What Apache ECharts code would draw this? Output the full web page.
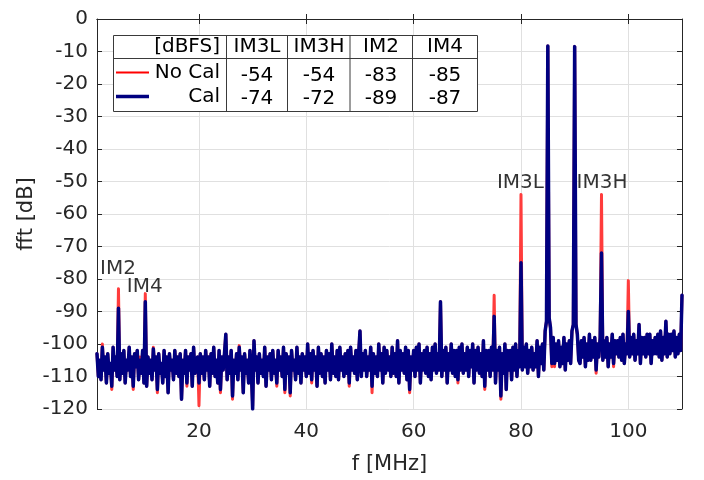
<!DOCTYPE html>
<html><head><meta charset="utf-8">
<script src="https://cdn.jsdelivr.net/npm/echarts@6/dist/echarts.min.js"></script>
<style>html,body{margin:0;padding:0;background:#fff}#c{width:704px;height:480px}</style>
</head><body><div id="c"></div>
<script>
// frequency grid: first sample and spacing (MHz)
const fStart = 1, fStep = 0.25;

// "Cal" spectrum (dB), one value per 0.25 MHz from 1 to 110 MHz (20 values = 5 MHz per row)
const calDb = [
  -103,-110,-105,-111,-101,-108,-104,-112,-103,-109,-106,-113,-101,-108,-104,-110,-89,-111,-103,-109,
  -102,-112,-105,-108,-101,-110,-104,-113,-103,-107,-102,-111,-105,-109,-102,-112,-87,-113,-104,-109,
  -105,-111,-101.5,-108,-104,-114,-103,-109,-106,-112,-102,-110,-104,-115,-103,-108,-105,-111,-102,-109,
  -104,-110,-103,-117,-105,-109,-102,-112,-104,-108,-103,-113,-101,-109,-105,-104,-112,-103,-109,-104,
  -111,-102,-108,-104,-113,-103,-109,-101,-110,-105,-112,-102,-114,-104,-108,-103,-97,-111,-104,-109,
  -102,-116,-105,-109,-103,-111,-101,-108,-104,-115,-103,-109,-105,-112,-102,-108,-120,-99,-108,-104,
  -112,-103,-109,-105,-110,-101,-113,-104,-108,-103,-111,-102,-109,-105,-112,-102,-108,-104,-110,-101,
  -114,-103,-109,-104,-115,-102,-108,-105,-111,-101,-109,-104,-112,-103,-108,-104,-110,-100,-109,-103,
  -111,-102,-108,-104,-113,-101,-109,-103,-110,-104,-112,-102,-108,-103,-111,-100,-109,-104,-110,-102,
  -111,-101,-108,-104,-110,-103,-109,-102,-112,-101,-108,-104,-109,-102,-111,-103,-96,-110,-103,-108,
  -102,-110,-104,-108,-101,-113,-103,-109,-104,-110,-100,-108,-103,-112,-101,-109,-102,-108,-104,-110,
  -101,-109,-103,-110,-99,-112,-102,-108,-103,-109,-101,-111,-102,-114,-104,-108,-102,-110,-101,-108,
  -100,-112,-103,-108,-102,-109,-101,-110,-103,-111,-101,-108,-100,-109,-103,-108,-87,-110,-102,-108,
  -101,-112,-103,-108,-100,-109,-102,-110,-102,-111,-101,-108,-100,-109,-103,-108,-101,-110,-102,-107,
  -100,-112,-102,-108,-101,-109,-103,-110,-99,-113,-102,-108,-102,-110,-101,-108,-91.5,-112,-102,-108,
  -101,-116,-103,-109,-100,-114,-102,-108,-102,-111,-101,-108,-100,-110,-102,-107,-75,-108,-101,-107,
  -100,-109,-102,-107,-101,-108,-103,-107,-99,-110,-101,-106,-100,-108,-96,-93,-8.3,-92,-95,-106,
  -98,-106,-100,-105,-99,-107,-101,-106,-98,-108,-100,-105,-99,-106,-96,-94,-8.5,-94,-97,-105,
  -106,-99,-104,-98,-107,-100,-105,-97,-105,-99,-104,-98,-108,-100,-104,-98,-72,-105,-99,-104,
  -98,-107,-100,-104,-97,-106,-99,-103,-99,-104,-98,-105,-97,-106,-100,-103,-90,-104,-98,-103,
  -97,-105,-99,-103,-94,-106,-98,-103,-98,-104,-97,-103,-97,-106,-99,-103,-98,-103,-97,-104,
  -96,-105,-98,-103,-93,-104,-97,-103,-97,-102,-96,-104,-98,-103,-97,-102,-85
];

// "No Cal" spectrum (dB), same frequency grid
const noCalDb = [
  -103,-110,-105,-111,-100,-108,-104,-112,-103,-109,-106,-114,-101,-108,-104,-110,-83,-111,-103,-109,
  -102,-112,-105,-108,-101,-110,-104,-114,-103,-107,-102,-111,-104,-109,-102,-112,-84.5,-113,-104,-109,
  -105,-111,-101,-108,-104,-115,-103,-109,-106,-112,-102,-110,-104,-115,-103,-108,-105,-111,-102,-109,
  -104,-110,-103,-117,-105,-109,-102,-113,-104,-108,-103,-113,-101,-109,-105,-104,-119,-103,-109,-104,
  -111,-102,-108,-104,-113,-103,-109,-101,-110,-105,-112,-102,-115,-104,-108,-103,-97,-111,-104,-109,
  -102,-117,-105,-109,-103,-111,-100.5,-108,-104,-115,-103,-109,-105,-112,-102,-108,-119,-99,-108,-104,
  -112,-103,-109,-105,-110,-101,-113,-104,-108,-103,-111,-102,-109,-105,-113,-102,-108,-104,-110,-101,
  -115,-103,-109,-104,-116,-102,-108,-105,-111,-101,-109,-104,-112,-103,-108,-104,-110,-100,-109,-103,
  -112,-102,-108,-104,-113,-101,-109,-103,-110,-104,-112,-102,-108,-103,-111,-100,-109,-104,-110,-102,
  -111,-101,-108,-104,-110,-103,-109,-102,-113,-101,-108,-104,-109,-102,-111,-103,-96,-110,-103,-108,
  -102,-110,-104,-108,-101,-115,-103,-109,-104,-110,-100,-108,-103,-112,-101,-109,-102,-108,-104,-110,
  -101,-109,-103,-110,-99,-112,-102,-108,-103,-109,-101,-111,-102,-115,-104,-108,-102,-110,-101,-108,
  -100,-112,-103,-108,-102,-109,-101,-110,-103,-111,-101,-108,-100,-109,-103,-108,-87,-110,-102,-108,
  -101,-112,-103,-108,-100,-109,-102,-110,-102,-112,-101,-108,-100,-109,-103,-108,-101,-110,-102,-107,
  -100,-112,-102,-108,-101,-109,-103,-110,-99,-114,-102,-108,-102,-110,-101,-108,-85,-112,-102,-108,
  -101,-117,-103,-109,-100,-114,-102,-108,-102,-111,-101,-108,-100,-110,-102,-107,-54,-108,-101,-107,
  -100,-109,-102,-107,-101,-108,-103,-107,-99,-110,-101,-106,-100,-108,-96,-93,-8.3,-92,-95,-107,
  -98,-107,-100,-105,-99,-107,-101,-106,-98,-108,-100,-105,-99,-106,-96,-94,-8.5,-94,-97,-105,
  -106,-99,-104,-98,-107,-100,-105,-97,-105,-99,-104,-98,-109,-100,-104,-98,-54,-105,-99,-104,
  -98,-107,-100,-104,-97,-107,-99,-103,-99,-104,-98,-105,-97,-106,-100,-103,-80.5,-104,-98,-103,
  -97,-105,-99,-103,-94,-106,-98,-103,-98,-104,-97,-103,-97,-106,-99,-103,-98,-103,-97,-104,
  -96,-105,-98,-103,-93,-104,-97,-103,-97,-102,-96,-104,-98,-103,-97,-102,-85
];

const xTicks = [20, 40, 60, 80, 100];

// spur annotations (frequency, label level in dB)
const spurNames = ['IM2', 'IM4', 'IM3L', 'IM3H'];
const spurFreqs = [4.9, 9.9, 79.9, 95.1];
const spurLabelDb = [-77, -82.5, -50.5, -50.5];

// legend table
const tableHeader = ['[dBFS]', 'IM3L', 'IM3H', 'IM2', 'IM4'];
const seriesNames = ['No Cal', 'Cal'];
const tableNoCal = ['-54', '-54', '-83', '-85'];
const tableCal = ['-74', '-72', '-89', '-87'];

const FONT = 'DejaVu Sans';
const AX = '#262626';
const RED = '#ff3c3c';
const NAVY = '#000080';

const toPairs = arr => arr.map((v, i) => [fStart + i * fStep, v]);

const chart = echarts.init(document.getElementById('c'), null, {renderer: 'canvas'});

// table graphics
const tX0 = 113.5, tX1 = 477.5, tY0 = 35.5, tY1 = 111.5, tYh = 58.5;
const colX = [226.5, 287.5, 350, 412.5];
const colC = [257, 319, 381, 445];
const g = [];
g.push({type: 'rect', shape: {x: tX0, y: tY0, width: tX1 - tX0, height: tY1 - tY0},
  style: {fill: '#fff', stroke: '#3a3a3a', lineWidth: 1}, z: 100});
g.push({type: 'line', shape: {x1: tX0, y1: tYh, x2: tX1, y2: tYh}, style: {stroke: '#3a3a3a', lineWidth: 1}, z: 101});
colX.forEach(x => g.push({type: 'line', shape: {x1: x, y1: tY0, x2: x, y2: tY1}, style: {stroke: '#3a3a3a', lineWidth: 1}, z: 101}));
const txt = (t, x, y, align) => ({type: 'text', x: x, y: y, z: 102,
  style: {text: t, font: '20px "' + FONT + '"', fill: '#000', align: align, verticalAlign: 'middle'}});
g.push(txt(tableHeader[0], 220, 47, 'right'));
for (let i = 1; i < tableHeader.length; i++) g.push(txt(tableHeader[i], colC[i - 1], 47, 'center'));
g.push(txt(seriesNames[0], 220, 73, 'right'));
g.push(txt(seriesNames[1], 220, 97, 'right'));
tableNoCal.forEach((t, i) => g.push(txt(t, colC[i], 76, 'center')));
tableCal.forEach((t, i) => g.push(txt(t, colC[i], 98.5, 'center')));
g.push({type: 'line', shape: {x1: 116, y1: 72.5, x2: 149, y2: 72.5}, style: {stroke: '#ff0000', lineWidth: 2}, z: 101});
g.push({type: 'line', shape: {x1: 116, y1: 96.5, x2: 149, y2: 96.5}, style: {stroke: NAVY, lineWidth: 3.5}, z: 101});

const option = {
  animation: false,
  backgroundColor: '#fff',
  textStyle: {fontFamily: FONT},
  grid: {left: 97, right: 22, top: 19, bottom: 70, containLabel: false},
  xAxis: [{
    type: 'value', min: 1, max: 110, position: 'bottom',
    name: 'f [MHz]', nameLocation: 'middle', nameGap: 45, nameMoveOverlap: false,
    nameTextStyle: {fontSize: 21, color: AX, fontFamily: FONT},
    axisLine: {show: true, lineStyle: {color: AX, width: 1}},
    axisTick: {show: true, inside: true, length: 5, customValues: xTicks, lineStyle: {color: AX}},
    axisLabel: {customValues: xTicks, fontSize: 20, color: AX, margin: 13, fontFamily: FONT},
    splitLine: {show: true, lineStyle: {color: '#e0e0e0', width: 1}}
  }, {
    type: 'value', min: 1, max: 110, position: 'top',
    axisLine: {show: true, lineStyle: {color: AX, width: 1}},
    axisTick: {show: true, inside: true, length: 5, customValues: xTicks, lineStyle: {color: AX}},
    axisLabel: {show: false, customValues: xTicks},
    splitLine: {show: false}
  }],
  yAxis: [{
    type: 'value', min: -120, max: 0, interval: 10, position: 'left',
    name: 'fft [dB]', nameLocation: 'middle', nameGap: 60, nameMoveOverlap: false,
    nameTextStyle: {fontSize: 21, color: AX, fontFamily: FONT},
    axisLine: {show: true, lineStyle: {color: AX, width: 1}},
    axisTick: {show: true, inside: true, length: 5, lineStyle: {color: AX}},
    axisLabel: {fontSize: 20, color: AX, margin: 9, fontFamily: FONT},
    splitLine: {show: true, lineStyle: {color: '#e0e0e0', width: 1}}
  }, {
    type: 'value', min: -120, max: 0, interval: 10, position: 'right',
    axisLine: {show: true, lineStyle: {color: AX, width: 1}},
    axisTick: {show: true, inside: true, length: 5, lineStyle: {color: AX}},
    axisLabel: {show: false},
    splitLine: {show: false}
  }],
  series: [{
    name: 'No Cal', type: 'line', data: toPairs(noCalDb), showSymbol: false, symbol: 'none',
    xAxisIndex: 0, yAxisIndex: 0, sampling: null, silent: true, z: 2,
    lineStyle: {color: RED, width: 3, join: 'round', cap: 'round'}
  }, {
    name: 'Cal', type: 'line', data: toPairs(calDb), showSymbol: false, symbol: 'none',
    xAxisIndex: 0, yAxisIndex: 0, sampling: null, silent: true, z: 3,
    lineStyle: {color: NAVY, width: 3.5, join: 'round', cap: 'round'}
  }, {
    name: 'labels', type: 'scatter', symbolSize: 0, silent: true, z: 4,
    data: spurNames.map((n, i) => ({value: [spurFreqs[i], spurLabelDb[i]], name: n})),
    label: {show: true, position: 'inside', formatter: p => p.name, fontSize: 20, color: '#000', fontFamily: FONT}
  }],
  graphic: g
};
chart.setOption(option);
</script></body></html>
